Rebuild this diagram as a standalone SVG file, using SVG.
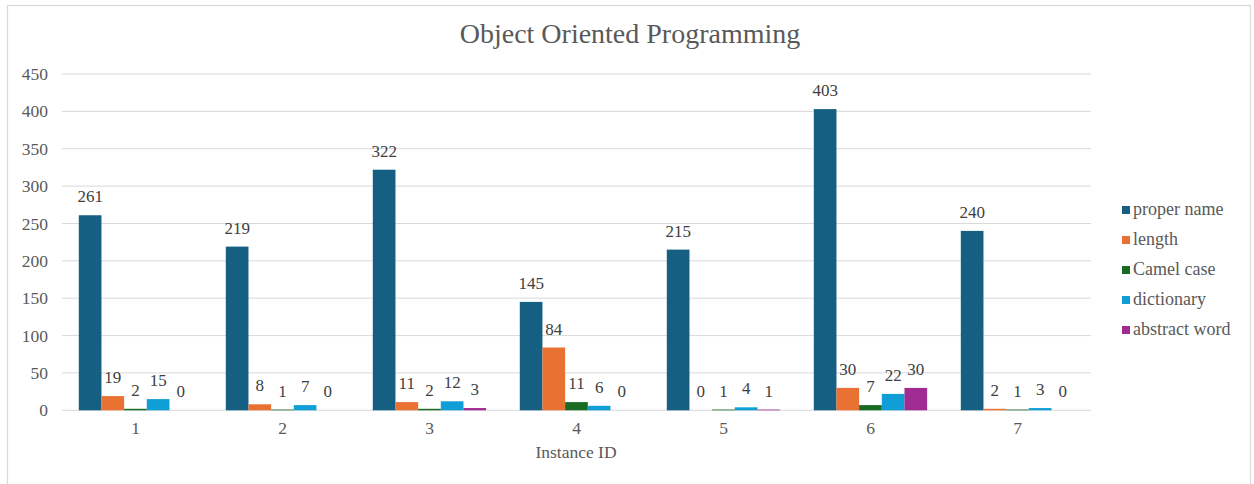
<svg xmlns="http://www.w3.org/2000/svg" width="1254" height="484" viewBox="0 0 1254 484">
<style>
text{font-family:"Liberation Serif",Tinos,"Times New Roman","DejaVu Serif",serif;}
.title{font-size:28px;fill:#595959;text-anchor:middle;}
.ax{font-size:17.5px;fill:#595959;}
.yl{text-anchor:end;}
.cl{text-anchor:middle;}
.dl{font-size:17px;fill:#404040;text-anchor:middle;}
.lg{font-size:18px;fill:#595959;}
.grid{stroke:#d9d9d9;stroke-width:1;}
.s1{fill:#156082;}
.s2{fill:#E97132;}
.s3{fill:#196B24;}
.s4{fill:#0F9ED5;}
.s5{fill:#A02B93;}
</style>
<rect x="0" y="0" width="1254" height="484" fill="#ffffff"/>
<rect x="7.5" y="5.5" width="1243" height="490" fill="#ffffff" stroke="#d9d9d9" stroke-width="1.2"/>
<text class="title" x="630" y="43">Object Oriented Programming</text>
<g id="gridlines">
<line class="grid" x1="62" y1="74" x2="1091" y2="74"/>
<line class="grid" x1="62" y1="111.4" x2="1091" y2="111.4"/>
<line class="grid" x1="62" y1="148.7" x2="1091" y2="148.7"/>
<line class="grid" x1="62" y1="186.1" x2="1091" y2="186.1"/>
<line class="grid" x1="62" y1="223.5" x2="1091" y2="223.5"/>
<line class="grid" x1="62" y1="260.8" x2="1091" y2="260.8"/>
<line class="grid" x1="62" y1="298.2" x2="1091" y2="298.2"/>
<line class="grid" x1="62" y1="335.6" x2="1091" y2="335.6"/>
<line class="grid" x1="62" y1="372.9" x2="1091" y2="372.9"/>
<line class="grid" x1="62" y1="410.3" x2="1091" y2="410.3"/>
</g>
<g id="y-axis">
<text class="ax yl" x="48" y="80">450</text>
<text class="ax yl" x="48" y="117.4">400</text>
<text class="ax yl" x="48" y="154.7">350</text>
<text class="ax yl" x="48" y="192.1">300</text>
<text class="ax yl" x="48" y="229.5">250</text>
<text class="ax yl" x="48" y="266.8">200</text>
<text class="ax yl" x="48" y="304.2">150</text>
<text class="ax yl" x="48" y="341.6">100</text>
<text class="ax yl" x="48" y="378.9">50</text>
<text class="ax yl" x="48" y="416.3">0</text>
</g>
<g id="x-axis">
<text class="ax cl" x="135.5" y="434">1</text>
<text class="ax cl" x="282.5" y="434">2</text>
<text class="ax cl" x="429.5" y="434">3</text>
<text class="ax cl" x="576.5" y="434">4</text>
<text class="ax cl" x="723.5" y="434">5</text>
<text class="ax cl" x="870.5" y="434">6</text>
<text class="ax cl" x="1017.5" y="434">7</text>
<text class="ax cl" x="576" y="457.7">Instance ID</text>
</g>
<g id="cat1">
<rect class="s1" x="78.8" y="215.25" width="22.67" height="195.05"/>
<rect class="s2" x="101.47" y="396.1" width="22.67" height="14.2"/>
<rect class="s3" x="124.13" y="408.8" width="22.67" height="1.5"/>
<rect class="s4" x="146.8" y="399.1" width="22.67" height="11.2"/>
<text class="dl" x="90.13" y="202.25">261</text>
<text class="dl" x="112.8" y="383.1">19</text>
<text class="dl" x="135.47" y="395.8">2</text>
<text class="dl" x="158.13" y="386.1">15</text>
<text class="dl" x="180.8" y="397.3">0</text>
</g>
<g id="cat2">
<rect class="s1" x="225.8" y="246.6" width="22.67" height="163.7"/>
<rect class="s2" x="248.47" y="404.3" width="22.67" height="6"/>
<rect class="s3" x="271.13" y="409.55" width="22.67" height="0.75"/>
<rect class="s4" x="293.8" y="405.1" width="22.67" height="5.2"/>
<text class="dl" x="237.13" y="233.6">219</text>
<text class="dl" x="259.8" y="391.3">8</text>
<text class="dl" x="282.47" y="396.55">1</text>
<text class="dl" x="305.13" y="392.1">7</text>
<text class="dl" x="327.8" y="397.3">0</text>
</g>
<g id="cat3">
<rect class="s1" x="372.8" y="169.7" width="22.67" height="240.6"/>
<rect class="s2" x="395.47" y="402.1" width="22.67" height="8.2"/>
<rect class="s3" x="418.13" y="408.8" width="22.67" height="1.5"/>
<rect class="s4" x="440.8" y="401.3" width="22.67" height="9"/>
<rect class="s5" x="463.47" y="408.06" width="22.67" height="2.24"/>
<text class="dl" x="384.13" y="156.7">322</text>
<text class="dl" x="406.8" y="389.1">11</text>
<text class="dl" x="429.47" y="395.8">2</text>
<text class="dl" x="452.13" y="388.3">12</text>
<text class="dl" x="474.8" y="395.06">3</text>
</g>
<g id="cat4">
<rect class="s1" x="519.8" y="301.9" width="22.67" height="108.4"/>
<rect class="s2" x="542.47" y="347.5" width="22.67" height="62.8"/>
<rect class="s3" x="565.13" y="402.1" width="22.67" height="8.2"/>
<rect class="s4" x="587.8" y="405.8" width="22.67" height="4.5"/>
<text class="dl" x="531.13" y="288.9">145</text>
<text class="dl" x="553.8" y="334.5">84</text>
<text class="dl" x="576.47" y="389.1">11</text>
<text class="dl" x="599.13" y="392.8">6</text>
<text class="dl" x="621.8" y="397.3">0</text>
</g>
<g id="cat5">
<rect class="s1" x="666.8" y="249.6" width="22.67" height="160.7"/>
<rect class="s3" x="712.13" y="409.55" width="22.67" height="0.75"/>
<rect class="s4" x="734.8" y="407.3" width="22.67" height="3"/>
<rect class="s5" x="757.47" y="409.55" width="22.67" height="0.75"/>
<text class="dl" x="678.13" y="236.6">215</text>
<text class="dl" x="700.8" y="397.3">0</text>
<text class="dl" x="723.47" y="396.55">1</text>
<text class="dl" x="746.13" y="394.3">4</text>
<text class="dl" x="768.8" y="396.55">1</text>
</g>
<g id="cat6">
<rect class="s1" x="813.8" y="109.1" width="22.67" height="301.2"/>
<rect class="s2" x="836.47" y="387.9" width="22.67" height="22.4"/>
<rect class="s3" x="859.13" y="405.1" width="22.67" height="5.2"/>
<rect class="s4" x="881.8" y="393.9" width="22.67" height="16.4"/>
<rect class="s5" x="904.47" y="387.9" width="22.67" height="22.4"/>
<text class="dl" x="825.13" y="96.1">403</text>
<text class="dl" x="847.8" y="374.9">30</text>
<text class="dl" x="870.47" y="392.1">7</text>
<text class="dl" x="893.13" y="380.9">22</text>
<text class="dl" x="915.8" y="374.9">30</text>
</g>
<g id="cat7">
<rect class="s1" x="960.8" y="230.9" width="22.67" height="179.4"/>
<rect class="s2" x="983.47" y="408.8" width="22.67" height="1.5"/>
<rect class="s3" x="1006.13" y="409.55" width="22.67" height="0.75"/>
<rect class="s4" x="1028.8" y="408.06" width="22.67" height="2.24"/>
<text class="dl" x="972.13" y="217.9">240</text>
<text class="dl" x="994.8" y="395.8">2</text>
<text class="dl" x="1017.47" y="396.55">1</text>
<text class="dl" x="1040.13" y="395.06">3</text>
<text class="dl" x="1062.8" y="397.3">0</text>
</g>
<g id="legend">
<rect class="s1" x="1122" y="206" width="8" height="8"/>
<text class="lg" x="1133" y="214.5">proper name</text>
<rect class="s2" x="1122" y="236" width="8" height="8"/>
<text class="lg" x="1133" y="244.5">length</text>
<rect class="s3" x="1122" y="266" width="8" height="8"/>
<text class="lg" x="1133" y="274.5">Camel case</text>
<rect class="s4" x="1122" y="296" width="8" height="8"/>
<text class="lg" x="1133" y="304.5">dictionary</text>
<rect class="s5" x="1122" y="326" width="8" height="8"/>
<text class="lg" x="1133" y="334.5">abstract word</text>
</g>
</svg>
